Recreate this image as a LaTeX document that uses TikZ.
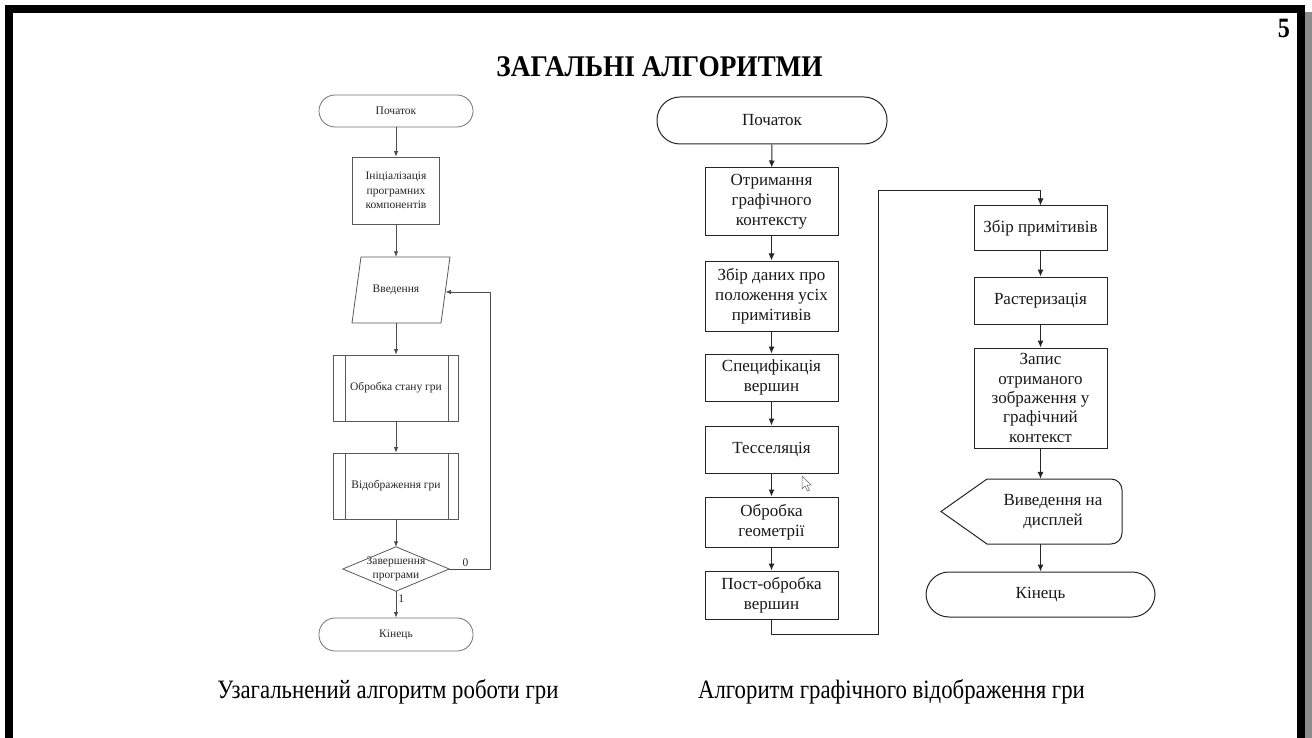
\documentclass[tikz,border=0pt]{standalone}
\usepackage{fontspec}
\setmainfont{Liberation Serif}
\newfontfamily\condf[FakeStretch=0.86]{Liberation Serif}
\newfontfamily\titf[FakeStretch=0.91]{Liberation Serif}
\usetikzlibrary{arrows.meta,calc}
\begin{document}
\begin{tikzpicture}[x=1pt,y=-1pt,
  lline/.style={draw=black!65, line width=0.8pt},
  lbox/.style={lline, font=\fontsize{11.5}{14.5}\selectfont, text=black!85, align=center, inner sep=0pt},
  lplain/.style={font=\fontsize{11.5}{14.5}\selectfont, text=black!85, align=center, inner sep=0pt},
  lterm/.style={lbox, draw=black!55, rounded corners=16pt},
  larr/.style={draw=black!70, line width=0.8pt, -{Latex[length=5.5pt,width=4.5pt]}},
  rline/.style={draw=black!85, line width=1pt},
  rbox/.style={rline, font=\fontsize{17}{20}\selectfont, text=black!90, align=center, inner sep=0pt, minimum width=133pt},
  rplain/.style={font=\fontsize{17}{20}\selectfont, text=black!90, align=center, inner sep=0pt},
  rterm/.style={rbox, rounded corners=23pt},
  rarr/.style={draw=black!85, line width=1pt, -{Latex[length=7pt,width=6pt]}},
  lbl/.style={font=\fontsize{11.5}{13}\selectfont, text=black!85, inner sep=2pt}
]
\useasboundingbox (0,0) rectangle (1312,738);
\fill[white] (0,0) rectangle (1312,738);
% frame
\fill[black!45] (1305,12) rectangle (1312,738);
\draw[line width=8pt] (9,9) rectangle (1301,743);

% title and page number
\node[font=\titf\bfseries\fontsize{30}{34}\selectfont] (title) at (659.5,67) {ЗАГАЛЬНІ АЛГОРИТМИ};
\node[font=\condf\bfseries\fontsize{28}{32}\selectfont] (pnum) at (1284,28) {5};

% ---------- left flowchart ----------
\node[lterm, minimum width=154pt, minimum height=32pt] (ls) at (396,111) {Початок};
\node[lbox, minimum width=87pt, minimum height=67pt] (linit) at (396,190.5) {Ініціалізація\\програмних\\компонентів};
\node[lplain, minimum width=89pt, minimum height=66pt] (lvv) at (396,290) {Введення};
\draw[lline] ($(lvv.center)+(-35,-33)$) -- ($(lvv.center)+(54,-33)$) -- ($(lvv.center)+(45,33)$) -- ($(lvv.center)+(-44,33)$) -- cycle;
\coordinate (lvvR) at ($(lvv.center)+(49.5,2)$);
\node[lbox, minimum width=125pt, minimum height=66pt] (lobr) at (396,388) {Обробка стану гри};
\draw[lline] ($(lobr.north west)+(12,0)$) -- ($(lobr.south west)+(12,0)$);
\draw[lline] ($(lobr.north east)+(-11,0)$) -- ($(lobr.south east)+(-11,0)$);
\node[lbox, minimum width=125pt, minimum height=66pt] (lvid) at (396,486) {Відображення гри};
\draw[lline] ($(lvid.north west)+(12,0)$) -- ($(lvid.south west)+(12,0)$);
\draw[lline] ($(lvid.north east)+(-11,0)$) -- ($(lvid.south east)+(-11,0)$);
\node[lplain, minimum width=106pt, minimum height=44pt] (ldia) at (396,569) {Завершення\\програми};
\draw[lline] (ldia.north) -- (ldia.east) -- (ldia.south) -- (ldia.west) -- cycle;
\node[lterm, minimum width=154pt, minimum height=33pt] (lend) at (396,634.5) {Кінець};

\draw[larr] (ls) -- (linit);
\draw[larr] (linit) -- (lvv);
\draw[larr] (lvv) -- (lobr);
\draw[larr] (lobr) -- (lvid);
\draw[larr] (lvid) -- (ldia.north);
\draw[larr] (ldia.south) -- node[lbl, right, pos=0.3] {1} (lend.north);
\draw[larr] (ldia.east) -- node[lbl, above, pos=0.4] {0} ++(41,0) |- (lvvR);

% ---------- right flowchart ----------
\node[rterm, minimum width=230pt, minimum height=47pt] (rs) at (772,120.5) {Початок};
\node[rbox, minimum height=68pt] (r1) at (771.5,202) {Отримання\\графічного\\контексту};
\node[rbox, minimum height=70pt] (r2) at (771.5,296) {Збір даних про\\положення усіх\\примітивів};
\node[rbox, minimum height=47pt] (r3) at (771.5,377.5) {Специфікація\\вершин};
\node[rbox, minimum height=47pt] (r4) at (771.5,449.5) {Тесселяція};
\node[rbox, minimum height=50pt] (r5) at (771.5,522) {Обробка\\геометрії};
\node[rbox, minimum height=48pt] (r6) at (771.5,595) {Пост-обробка\\вершин};

\node[rbox, minimum height=45pt] (r7) at (1040.5,228.5) {Збір примітивів};
\node[rbox, minimum height=47pt] (r8) at (1040.5,300.5) {Растеризація};
\node[rbox, minimum height=100pt, font=\fontsize{17}{19.4}\selectfont] (r9) at (1040.5,398) {Запис\\отриманого\\зображення у\\графічний\\контекст};
\node[rplain, minimum width=100pt, minimum height=65pt] (disp) at (1053,511.5) {Виведення на\\дисплей};
\draw[rline] ($(disp.center)+(-112,0)$) -- ($(disp.center)+(-66,-32.5)$) -- ($(disp.center)+(58,-32.5)$)
  arc(-90:0:11) -- ($(disp.center)+(69,21.5)$) arc(0:90:11) -- ($(disp.center)+(-66,32.5)$) -- cycle;
\node[rterm, minimum width=229pt, minimum height=45pt] (rend) at (1040.5,594.5) {Кінець};

\coordinate (c1) at (878,634);
\coordinate (c2) at (878,191);

\draw[rarr] (rs) -- (r1);
\draw[rarr] (r1) -- (r2);
\draw[rarr] (r2) -- (r3);
\draw[rarr] (r3) -- (r4);
\draw[rarr] (r4) -- (r5);
\draw[rarr] (r5) -- (r6);
\draw[rarr] (r6.south) |- (c1) -- (c2) -| (r7.north);
\draw[rarr] (r7) -- (r8);
\draw[rarr] (r8) -- (r9);
\draw[rarr] (r9.south) -- (r9.south |- disp.north);
\draw[rarr] (r9.south |- disp.south) -- (rend.north);

% mouse cursor
\draw[draw=black!60, fill=white, line width=0.5pt] (802,476) -- (802,489) -- (805,486) -- (807.5,491) -- (809.5,490) -- (807,485) -- (811,485) -- cycle;

% captions
\node[font=\condf\fontsize{26.5}{30}\selectfont] (cap1) at (388,692) {Узагальнений алгоритм роботи гри};
\node[font=\condf\fontsize{26.5}{30}\selectfont] (cap2) at (891.5,692) {Алгоритм графічного відображення гри};
\end{tikzpicture}
\end{document}
